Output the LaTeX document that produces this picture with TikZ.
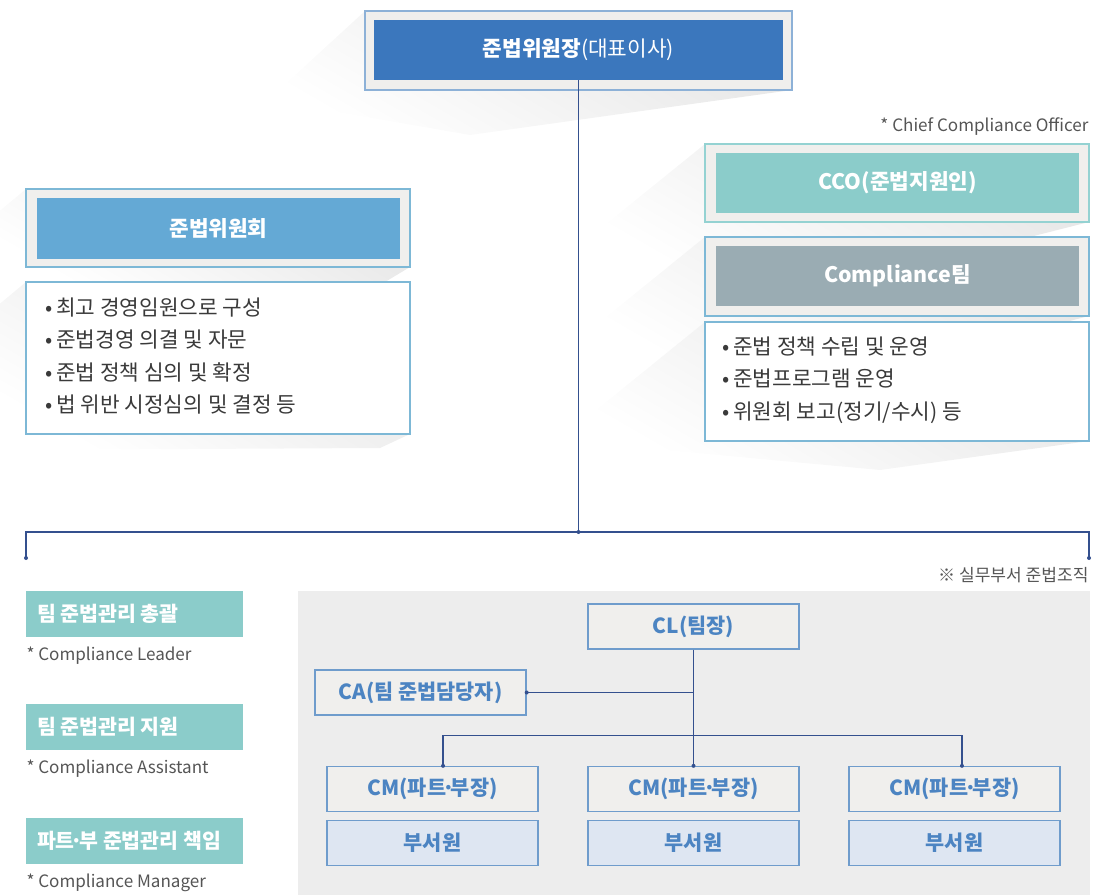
\documentclass[tikz,border=0pt]{standalone}
\usepackage{fontspec}
\setmainfont{Noto Sans CJK KR}
\usetikzlibrary{positioning}

\definecolor{chairblue}{HTML}{3B77BD}
\definecolor{cmtblue}{HTML}{64A9D5}
\definecolor{ccoteal}{HTML}{8BCCCA}
\definecolor{teamgray}{HTML}{9AACB3}
\definecolor{framefill}{HTML}{F0EFED}
\definecolor{frameblue}{HTML}{8DB1D7}
\definecolor{listblue}{HTML}{7DB8D6}
\definecolor{frameteal}{HTML}{94D2D2}
\definecolor{linenavy}{HTML}{34508E}
\definecolor{panelgray}{HTML}{EDEDED}
\definecolor{orgblue}{HTML}{6F9CCC}
\definecolor{orgtext}{HTML}{4C84C2}
\definecolor{staffblue}{HTML}{DEE6F2}
\definecolor{bodytext}{HTML}{3A3A3A}
\definecolor{notetext}{HTML}{555555}

\newcommand\halfdot{\kern-.19em·\kern-.19em}

\tikzset{every picture/.style={line width=0.75pt}}
\tikzset{sz/.style 2 args={minimum width=#1*0.75pt, minimum height=#2*0.75pt}}

\begin{document}
\begin{tikzpicture}[x=0.75pt,y=0.75pt,yscale=-1,xscale=1,
  frame/.style={draw=frameblue, fill=framefill, line width=1pt, inner sep=0pt},
  head/.style={inner sep=0pt, text=white, font=\fontsize{16pt}{18pt}\selectfont\bfseries},
  listbox/.style={draw=listblue, fill=white, line width=1pt, inner sep=0pt},
  listtext/.style={anchor=west, align=left, inner sep=0pt, text=bodytext, font=\fontsize{16pt}{24.4pt}\selectfont},
  note/.style={inner sep=0pt, text=notetext, font=\fontsize{12.8pt}{15pt}\selectfont},
  rolebox/.style={fill=ccoteal, inner sep=0pt, sz={217}{46}},
  role/.style={inner sep=0pt, text=white, font=\fontsize{15.4pt}{17pt}\selectfont\bfseries},
  orgbox/.style={draw=orgblue, fill=framefill, line width=1pt, inner sep=0pt, sz={211}{45}, text=orgtext, font=\fontsize{15.6pt}{18pt}\selectfont\bfseries},
  staffbox/.style={orgbox, fill=staffblue},
  link/.style={draw=linenavy, line width=1pt},
  shadow/.style={top color=black!10, bottom color=white, shading angle=-30}
]
\clip (0,0) rectangle (1108,895);

% shadows
\shade[shadow] (365,11) -- (268,100) -- (470,135) -- (792,90) -- (792,11) -- cycle;
\shade[shadow] (26,189) -- (-4,214) -- (-4,285) -- (380,285) -- (410,267) -- cycle;
\shade[shadow] (26,282) -- (-4,307) -- (-4,450) -- (380,448) -- (410,434) -- cycle;
\shade[shadow] (705,144) -- (590,237) -- (610,265) -- (880,275) -- (1089,222) -- cycle;
\shade[shadow] (705,237) -- (590,330) -- (610,358) -- (880,370) -- (1089,316) -- cycle;
\shade[shadow] (705,322) -- (590,415) -- (610,445) -- (880,470) -- (1089,441) -- cycle;

% top
\node[frame, sz={427}{79}] (chairframe) at (578.5,50.5) {};
\node[head, fill=chairblue, sz={409}{60}] (chair) at (578.5,50) {준법위원장{\mdseries(대표이사)}};

% committee
\node[frame, draw=listblue, sz={384}{78}] (cmtframe) at (218,228) {};
\node[head, fill=cmtblue, sz={363}{61}] (cmt) at (218.5,228.5) {준법위원회};
\node[listbox, sz={384}{152}] (cmtlist) at (218,358) {};
\node[listtext] (cmtitems) at (45,356) {•\,최고 경영임원으로 구성\\•\,준법경영 의결 및 자문\\•\,준법 정책 심의 및 확정\\•\,법 위반 시정심의 및 결정 등};

% CCO side
\node[note, anchor=east] (ccoabbr) at (1089,127) {* Chief Compliance Officer};
\node[frame, draw=frameteal, sz={384}{78}] (ccoframe) at (897,183) {};
\node[head, fill=ccoteal, sz={363}{60}] (cco) at (897.5,183) {CCO(준법지원인)};
\node[frame, draw=listblue, sz={384}{79}] (teamframe) at (897,276.5) {};
\node[head, fill=teamgray, sz={363}{60}] (team) at (897.5,276) {Compliance팀};
\node[listbox, sz={384}{119}] (teamlist) at (897,381.5) {};
\node[listtext] (teamitems) at (722,380) {•\,준법 정책 수립 및 운영\\•\,준법프로그램 운영\\•\,위원회 보고(정기/수시) 등};

% main branch
\coordinate (jn) at (578.5,532);
\coordinate (lft) at (26,558);
\coordinate (rgt) at (1089,558);
\draw[link] (chair.south) -- (jn);
\draw[link] (jn) -| (lft);
\draw[link] (jn) -| (rgt);

% role legend
\node[rolebox] (leadbox) at (134.5,614) {};
\node[role, right=8.25pt of leadbox.west] (lead) {팀 준법관리 총괄};
\node[note, anchor=west] (leadnote) at (26,656) {* Compliance Leader};
\node[rolebox] (assistbox) at (134.5,727) {};
\node[role, right=8.25pt of assistbox.west] (assist) {팀 준법관리 지원};
\node[note, anchor=west] (assistnote) at (26,769) {* Compliance Assistant};
\node[rolebox] (managerbox) at (134.5,841) {};
\node[role, right=8.25pt of managerbox.west] (manager) {파트\halfdot 부 준법관리 책임};
\node[note, anchor=west] (managernote) at (26,883) {* Compliance Manager};

% working departments
\node[note, anchor=east] (orgnote) at (1089,575) {※ 실무부서 준법조직};
\fill[panelgray] (298,591) rectangle (1090,895);

\node[orgbox] (cl) at (693.5,626.5) {CL(팀장)};
\node[orgbox] (ca) at (420.5,692.5) {CA(팀 준법담당자)};
\node[orgbox] (cmA) at (432.5,789) {CM(파트\halfdot 부장)};
\node[orgbox] (cmB) at (693.5,789) {CM(파트\halfdot 부장)};
\node[orgbox] (cmC) at (954.5,789) {CM(파트\halfdot 부장)};
\node[staffbox] (stA) at (432.5,843) {부서원};
\node[staffbox] (stB) at (693.5,843) {부서원};
\node[staffbox] (stC) at (954.5,843) {부서원};

\coordinate (dropA) at ([xshift=7.9pt]cmA.north);
\coordinate (dropC) at ([xshift=5.6pt]cmC.north);
\coordinate (bar) at (693.5,735.7);
\draw[link] (cl.south) -- (cmB.north);
\draw[link] (ca.east) -- (ca.east -| cl.south);
\draw[link] (dropA) |- (bar) -| (dropC);

\foreach \p in {jn,lft,rgt,ca.east,dropA,cmB.north,dropC}
  \fill[linenavy] (\p) circle (2);

\end{tikzpicture}
\end{document}
